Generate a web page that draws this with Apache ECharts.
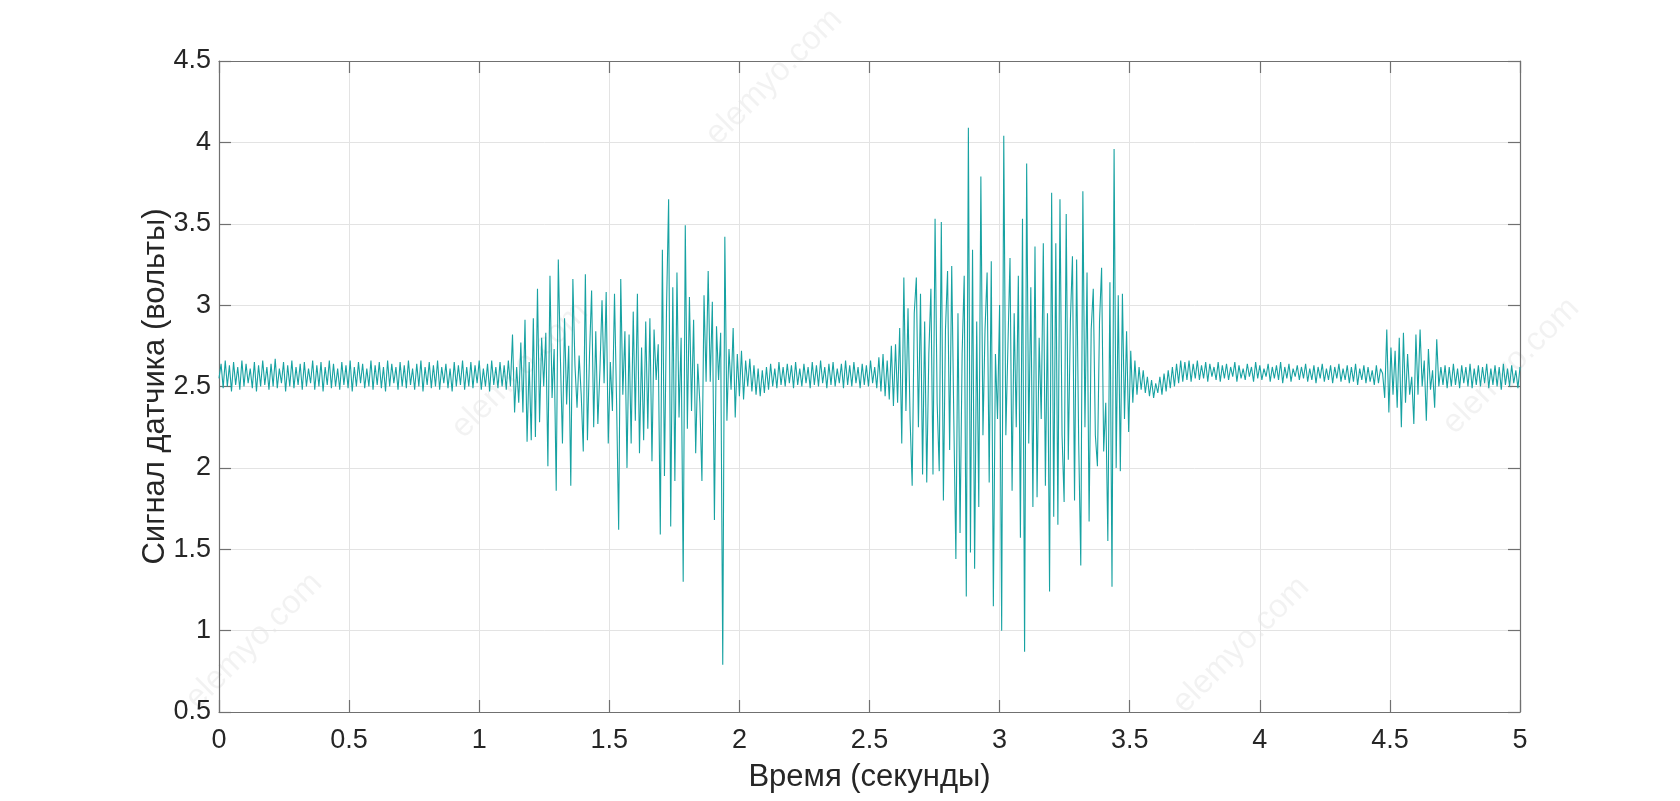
<!DOCTYPE html>
<html>
<head>
<meta charset="utf-8">
<script src="https://cdn.jsdelivr.net/npm/echarts@6/dist/echarts.min.js"></script>
<style>html,body{margin:0;padding:0;background:#fff}#c{width:1680px;height:801px}</style>
</head>
<body>
<div id="c"></div>
<script>
// Sample spacing (seconds) and segments of the sensor signal (volts)
const sampleStep = 0.008;
const xTicks = ['0','0.5','1','1.5','2','2.5','3','3.5','4','4.5','5'];
const yTicks = ['0.5','1','1.5','2','2.5','3','3.5','4','4.5'];

const quietA_start = 0.0;
const quietA = [
2.55,2.64,2.49,2.66,2.50,2.63,2.47,2.65,2.51,2.62,
2.48,2.66,2.50,2.64,2.52,2.61,2.49,2.65,2.47,2.63,
2.50,2.66,2.51,2.62,2.48,2.64,2.50,2.67,2.49,2.61,
2.52,2.65,2.47,2.63,2.50,2.66,2.49,2.62,2.51,2.64,
2.48,2.65,2.50,2.61,2.52,2.66,2.48,2.63,2.50,2.65,
2.47,2.62,2.51,2.66,2.49,2.64,2.50,2.61,2.48,2.65,
2.51,2.63,2.49,2.66,2.47,2.62,2.50,2.65,2.52,2.64,
2.49,2.61,2.50,2.66,2.48,2.63,2.51,2.65,2.49,2.62,
2.47,2.66,2.50,2.64,2.52,2.62,2.48,2.65,2.50,2.63,
2.49,2.66,2.51,2.61,2.48,2.64,2.50,2.66,2.47,2.62,
2.51,2.65,2.49,2.63,2.50,2.66,2.48,2.62,2.52,2.64,
2.49,2.61,2.47,2.65,2.50,2.63,2.51,2.66,2.48,2.62,
2.50,2.65,2.49,2.63,2.52,2.66,2.48,2.61,2.50,2.64,
2.47,2.66,2.51,2.62,2.49,2.65,2.50,2.63,2.48,2.66,
2.50];

const burst1_start = 1.128;
const burst1 = [
2.82,2.34,2.62,2.40,2.77,2.34,2.91,2.16,2.65,2.17,
2.92,2.19,3.10,2.28,2.80,2.50,2.83,2.01,3.18,2.43,
2.73,1.86,3.28,2.68,2.15,2.92,2.39,2.75,1.89,3.16,
2.63,2.37,2.69,2.45,2.10,3.19,2.17,2.70,3.09,2.25,
2.84,2.27,2.60,3.03,2.52,3.08,2.15,2.65,2.35,3.07,
2.40,1.62,3.16,2.45,2.84,2.00,2.82,2.15,2.96,2.29,
3.07,2.09,2.74,2.17,2.90,2.24,2.92,2.04,2.85,2.54,
2.76,1.59,3.34,1.95,2.99,3.65,1.64,3.11,1.92,3.20,
2.31,2.80,1.30,3.49,2.24,3.05,2.35,2.91,2.09,2.64,
2.40,1.92,3.06,2.53,3.21,2.53,3.02,1.68,2.87,2.54,
2.83,0.79,3.42,2.29,2.73,2.48,2.86,2.31,2.70,2.44];

const quietB_start = 2.008;
const quietB = [
2.72,2.42,2.66,2.50,2.67,2.47,2.63,2.45,2.61,2.44,
2.60,2.46,2.62,2.48,2.64,2.50,2.61,2.49,2.65,2.51,
2.62,2.50,2.64,2.52,2.63,2.49,2.65,2.51,2.61,2.50,
2.64,2.52,2.62,2.49,2.65,2.51,2.63,2.50,2.66,2.52,
2.62,2.49,2.64,2.51,2.65,2.50,2.61,2.52,2.64,2.49,
2.66,2.51,2.63,2.50,2.65,2.52,2.62,2.49,2.64,2.51,
2.63,2.50,2.66,2.52,2.62,2.49,2.68,2.47,2.70,2.44,
2.66,2.42,2.75,2.38];

const burst2_start = 2.600;
const burst2 = [
2.76,2.40,2.86,2.15,3.17,2.35,2.98,2.30,1.89,2.95,
3.17,2.25,3.07,1.96,2.90,1.91,2.70,3.10,1.96,3.53,
2.40,1.98,3.51,1.80,2.85,3.21,2.11,3.24,2.30,1.44,
2.95,1.60,2.70,3.18,1.21,4.09,1.48,3.34,1.38,2.90,
1.76,3.79,2.20,2.85,3.20,1.91,3.27,1.15,2.70,2.30,
3.00,1.00,4.04,2.20,2.75,3.29,1.86,2.95,2.25,3.18,
1.57,3.53,0.87,3.87,2.15,3.11,1.76,3.36,1.82,2.80,
2.30,3.38,1.89,2.95,1.24,3.69,1.70,3.38,1.65,3.65,
2.20,1.79,3.56,2.05,2.90,3.30,1.80,3.28,2.15,1.40,
3.70,2.25,3.20,1.67,2.85,3.10,2.20,2.01,2.90,3.23,
2.10,2.40,1.55,3.14,1.27,3.96,2.00,3.06,1.98];

const decay_start = 3.472;
const decay = [3.07,2.30,2.84,2.22,2.72,2.40,2.66,2.45,2.62,2.48,2.60,2.46,2.56,2.44,2.54,2.43,2.52];

const quietC_start = 3.608;
const quietC = [
2.46,2.56,2.45,2.58,2.47,2.60,2.49,2.62,2.50,2.64,
2.52,2.66,2.53,2.65,2.54,2.66,2.53,2.64,2.55,2.66,
2.54,2.63,2.55,2.65,2.53,2.64,2.56,2.62,2.54,2.65,
2.53,2.63,2.55,2.64,2.54,2.62,2.56,2.65,2.53,2.63,
2.55,2.61,2.54,2.64,2.56,2.62,2.53,2.65,2.55,2.63,
2.54,2.61,2.56,2.64,2.53,2.62,2.55,2.63,2.54,2.65,
2.52,2.62,2.55,2.64,2.53,2.61,2.56,2.63,2.54,2.62,
2.55,2.64,2.53,2.61,2.54,2.63,2.52,2.62,2.55,2.64,
2.53,2.61,2.54,2.63,2.52,2.62,2.55,2.64,2.53,2.61,
2.54,2.63,2.52,2.62,2.53,2.64,2.51,2.61,2.54,2.63,
2.52,2.62,2.53,2.60,2.51,2.63,2.52,2.61];

const burst3_start = 4.472;
const burst3 = [
2.58,2.43,2.85,2.34,2.74,2.45,2.72,2.37,2.80,2.25,
2.83,2.40,2.70,2.45,2.56,2.27,2.82,2.45,2.85,2.50,
2.66,2.29,2.73,2.48,2.60,2.37,2.79,2.50,2.62];

const quietD_start = 4.704;
const quietD = [
2.51,2.63,2.49,2.62,2.50,2.64,2.51,2.61,2.49,2.63,
2.52,2.62,2.50,2.64,2.49,2.61,2.51,2.63,2.50,2.62,
2.52,2.64,2.49,2.61,2.51,2.63,2.50,2.62,2.48,2.64,
2.51,2.61,2.50,2.63,2.52,2.60,2.49,2.62];

const segments = [
  [quietA_start, quietA], [burst1_start, burst1], [quietB_start, quietB],
  [burst2_start, burst2], [decay_start, decay], [quietC_start, quietC],
  [burst3_start, burst3], [quietD_start, quietD]
];
const points = [];
segments.forEach(([s, arr]) => arr.forEach((v, i) => points.push([+(s + i * sampleStep).toFixed(4), v])));

const FONT = "'Liberation Sans', Arial, Helvetica, sans-serif";
const axisGray = '#707070';
const gridGray = '#e3e3e3';

const chart = echarts.init(document.getElementById('c'), null, {renderer: 'canvas'});
const wm = [[774,77],[520,370],[1511,366],[254,641],[1241,645]].map(([x,y]) => ({
  type: 'text', x: x, y: y, rotation: Math.PI / 4, z: -10, silent: true,
  style: {text: 'elemyo.com', fill: 'rgba(0,0,0,0.05)', font: '33px ' + FONT, textAlign: 'center', textVerticalAlign: 'middle'}
}));

chart.setOption({
  animation: false,
  backgroundColor: '#ffffff',
  grid: {left: 219, right: 160, top: 61, bottom: 89, containLabel: false},
  graphic: wm,
  xAxis: [{
    type: 'value', min: 0, max: 5, interval: 0.5,
    name: 'Время (секунды)', nameLocation: 'middle', nameGap: 50,
    nameTextStyle: {fontFamily: FONT, fontSize: 31, color: '#262626'},
    axisLine: {show: true, onZero: false, lineStyle: {color: axisGray, width: 1.2}},
    axisTick: {show: true, inside: true, length: 12, lineStyle: {color: axisGray, width: 1.2}},
    axisLabel: {fontFamily: FONT, fontSize: 27, color: '#262626', margin: 15,
      formatter: v => xTicks[Math.round(v / 0.5)]},
    splitLine: {show: true, lineStyle: {color: gridGray, width: 1}}
  }, {
    type: 'value', min: 0, max: 5, interval: 0.5, position: 'top',
    axisLine: {show: true, onZero: false, lineStyle: {color: axisGray, width: 1.2}},
    axisTick: {show: true, inside: true, length: 12, lineStyle: {color: axisGray, width: 1.2}},
    axisLabel: {show: false}, splitLine: {show: false}
  }],
  yAxis: [{
    type: 'value', min: 0.5, max: 4.5, interval: 0.5,
    name: 'Сигнал датчика (вольты)', nameLocation: 'middle', nameGap: 48, nameMoveOverlap: false,
    nameTextStyle: {fontFamily: FONT, fontSize: 31, color: '#262626'},
    axisLine: {show: true, onZero: false, lineStyle: {color: axisGray, width: 1.2}},
    axisTick: {show: true, inside: true, length: 12, lineStyle: {color: axisGray, width: 1.2}},
    axisLabel: {fontFamily: FONT, fontSize: 27, color: '#262626', margin: 8,
      formatter: v => yTicks[Math.round((v - 0.5) / 0.5)]},
    splitLine: {show: true, lineStyle: {color: gridGray, width: 1}}
  }, {
    type: 'value', min: 0.5, max: 4.5, interval: 0.5, position: 'right',
    axisLine: {show: true, onZero: false, lineStyle: {color: axisGray, width: 1.2}},
    axisTick: {show: true, inside: true, length: 12, lineStyle: {color: axisGray, width: 1.2}},
    axisLabel: {show: false}, splitLine: {show: false}
  }],
  series: [{
    type: 'line', data: points, xAxisIndex: 0, yAxisIndex: 0,
    showSymbol: false, symbol: 'none', smooth: false,
    lineStyle: {color: '#17a2a2', width: 1.1},
    emphasis: {disabled: true}, z: 3
  }]
});
</script>
</body>
</html>
